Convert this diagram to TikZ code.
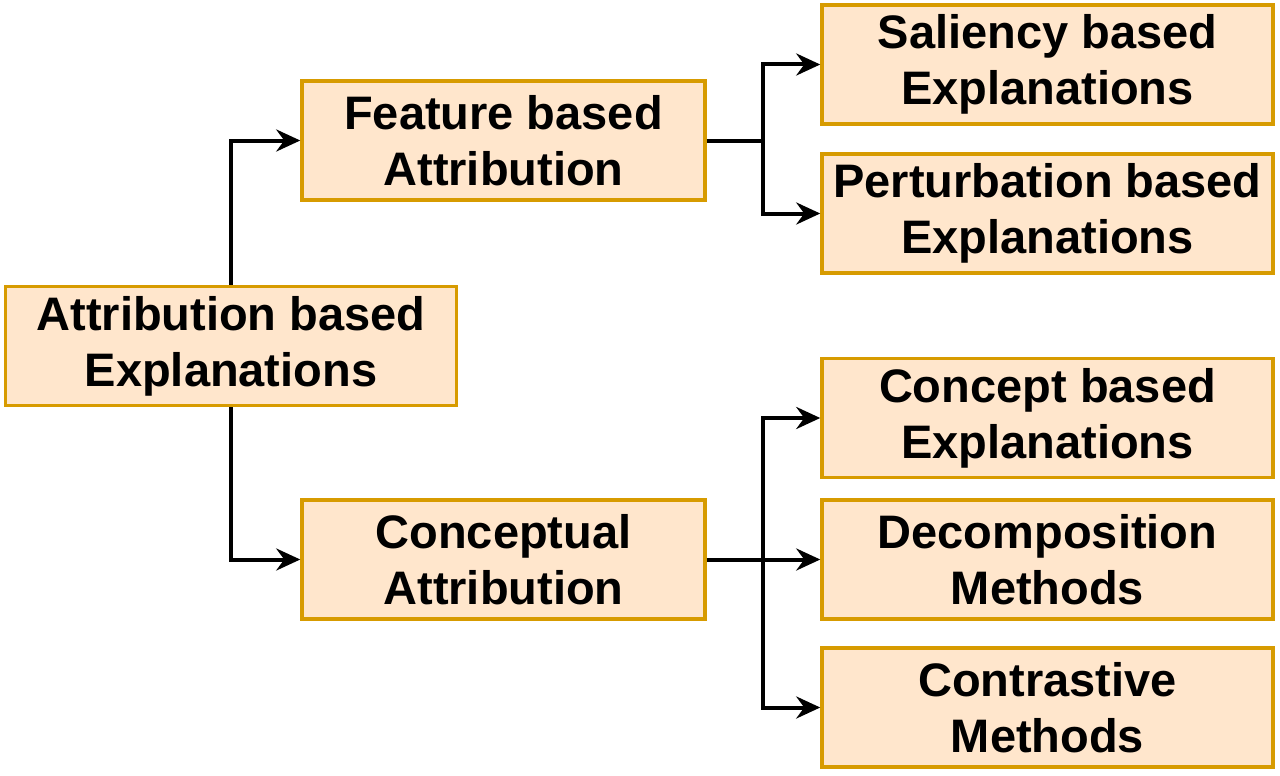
\documentclass[tikz,border=0pt]{standalone}
\usepackage{fontspec}
\setmainfont{Liberation Sans}
\usetikzlibrary{arrows.meta}
\definecolor{boxfill}{HTML}{FFE6CC}
\definecolor{boxdraw}{HTML}{D79B00}
\begin{document}
\begin{tikzpicture}[x=1pt,y=-1pt,
  box/.style={draw=boxdraw,fill=boxfill,line width=3.5pt,minimum height=119pt,align=center,inner sep=0pt,
    font=\fontsize{47}{56}\selectfont\bfseries},
  wide/.style={box,minimum width=451pt},
  mid/.style={box,minimum width=403pt},
  conn/.style={line width=4pt,-{Stealth[length=24pt,width=22pt,inset=8pt]}}]
\useasboundingbox (0,0) rectangle (1280,776);
\node[wide] (A) at (231,346) {Attribution based\\Explanations};
\node[mid] (F) at (503.5,140.5) {Feature based\\Attribution};
\node[mid] (C) at (503.5,559.5) {Conceptual\\Attribution};
\node[wide] (S) at (1047.5,64.5) {Saliency based\\Explanations};
\node[wide] (P) at (1047.5,213.5) {Perturbation based\\Explanations};
\node[wide] (Co) at (1047.5,418) {Concept based\\Explanations};
\node[wide] (D) at (1047.5,559.5) {Decomposition\\Methods};
\node[wide] (Ct) at (1047.5,707.5) {Contrastive\\Methods};
\draw[conn] (A.north) |- (F.west);
\draw[conn] (A.south) |- (C.west);
\coordinate (fj) at (763,140.5);
\coordinate (cj) at (763,559.5);
\draw[conn] (F.east) -- (fj) |- (S.west);
\draw[conn] (F.east) -- (fj) |- (P.west);
\draw[conn] (C.east) -- (cj) |- (Co.west);
\draw[conn] (C.east) -- (D.west);
\draw[conn] (C.east) -- (cj) |- (Ct.west);
\end{tikzpicture}
\end{document}
